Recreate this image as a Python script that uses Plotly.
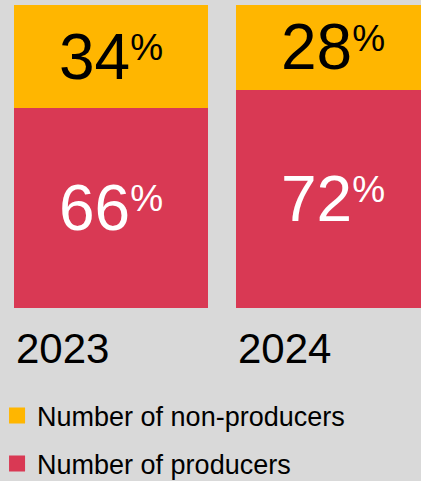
import plotly.graph_objects as go

# Share of respondents by year
years = ["2023", "2024"]
producers = [66, 72]
non_producers = [34, 28]

RED = "#D93954"
YELLOW = "#FFB600"
BG = "#D9D9D9"
FONT = "Liberation Sans, Arial, Helvetica, sans-serif"
BAR_WIDTH = 0.874
BASE_SIZE = 45  # sets the superscript offset; digits are sized explicitly


def pct_labels(values):
    return [
        f"<span style='font-size:64px'>{v}</span>"
        f"<sup><span style='font-size:37px'>%</span></sup>"
        for v in values
    ]


x = list(range(len(years)))

fig = go.Figure()
fig.add_bar(
    x=x, y=producers, name="Number of producers",
    marker=dict(color=RED, line=dict(width=0)), width=BAR_WIDTH,
    text=pct_labels(producers), textposition="inside",
    insidetextanchor="middle", textangle=0,
    textfont=dict(color="white", size=BASE_SIZE, family=FONT),
    legendgroup="producers", showlegend=False, hoverinfo="skip",
)
fig.add_bar(
    x=x, y=non_producers, name="Number of non-producers",
    marker=dict(color=YELLOW, line=dict(width=0)), width=BAR_WIDTH,
    text=pct_labels(non_producers), textposition="inside",
    insidetextanchor="middle", textangle=0,
    textfont=dict(color="black", size=BASE_SIZE, family=FONT),
    legendgroup="non_producers", showlegend=False, hoverinfo="skip",
)

# Legend keys with larger square swatches
for name, color, group in [
    ("Number of non-producers", YELLOW, "non_producers"),
    ("Number of producers", RED, "producers"),
]:
    fig.add_scatter(
        x=[None], y=[None], mode="markers", name=name,
        marker=dict(symbol="square", size=16, color=color),
        legendgroup=group, showlegend=True, hoverinfo="skip",
    )

# Year labels, left-aligned with each bar
for i, year in enumerate(years):
    fig.add_annotation(
        x=i - BAR_WIDTH / 2, xref="x", y=0, yref="paper",
        xanchor="left", yanchor="top", yshift=-15,
        text=year, showarrow=False,
        font=dict(size=42, color="black", family=FONT),
    )

fig.update_layout(
    width=421, height=481,
    barmode="stack",
    paper_bgcolor=BG, plot_bgcolor=BG,
    margin=dict(l=0, r=0, t=5, b=173, autoexpand=False),
    font=dict(family=FONT, color="black"),
    uniformtext=dict(minsize=BASE_SIZE, mode="show"),
    xaxis=dict(range=[-0.5, 1.396], visible=False, fixedrange=True),
    yaxis=dict(range=[0, 100], visible=False, fixedrange=True),
    showlegend=True,
    legend=dict(
        x=-0.007, xanchor="left", y=-0.275, yanchor="top",
        orientation="v", traceorder="grouped", tracegroupgap=10,
        font=dict(size=27, color="black", family=FONT),
        bgcolor="rgba(0,0,0,0)",
    ),
)

fig.write_html("out.html")
